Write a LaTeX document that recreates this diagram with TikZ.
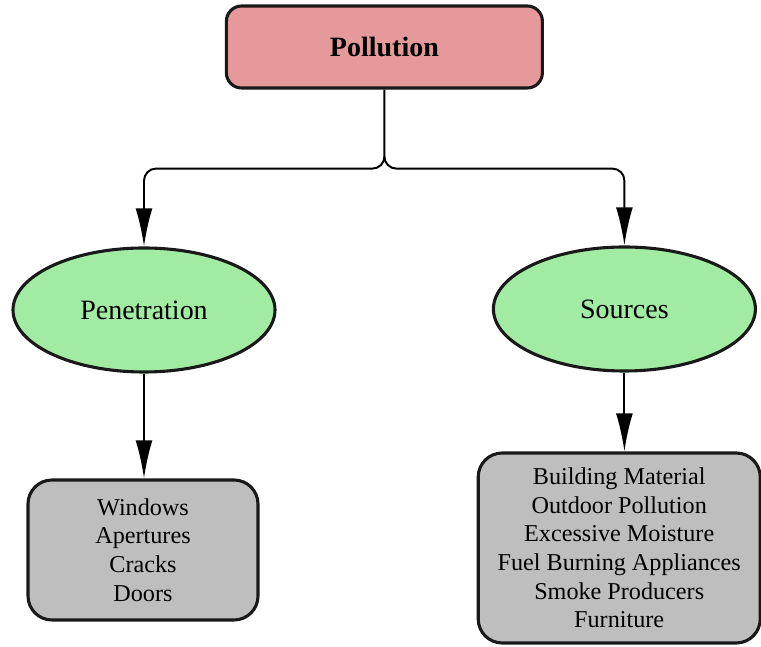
\documentclass[tikz,border=0pt]{standalone}
\usepackage{fontspec}
\setmainfont{LiberationSerif}[Extension=.ttf, UprightFont=*-Regular, BoldFont=*-Bold]
\usepackage{tikz}
\usetikzlibrary{shapes.geometric, calc, arrows.meta}

\definecolor{toppink}{HTML}{E6999A}
\definecolor{leafgreen}{HTML}{A2EBA2}
\definecolor{listgray}{HTML}{BEBEBE}

\begin{document}
\begin{tikzpicture}[
        topbox/.style={draw=black!90, line width=2.2pt, fill=toppink, rounded corners=0.38cm,
            minimum width=7.9cm, minimum height=2.05cm, inner sep=0pt,
            font=\fontsize{19.9}{24}\selectfont\bfseries},
        branch/.style={ellipse, draw=black!90, line width=2.2pt, fill=leafgreen,
            minimum width=6.55cm, minimum height=3.1cm, inner sep=0pt,
            font=\fontsize{19.9}{24}\selectfont},
        listbox/.style={draw=black!90, line width=2.2pt, fill=listgray, rounded corners=0.6cm,
            inner sep=0pt, align=center, font=\fontsize{17.2}{20.4}\selectfont},
        link/.style={line width=1.4pt, -{Latex[length=0.95cm, width=0.42cm]}}
    ]
        \useasboundingbox (0,0) rectangle (19.025,16.175);

        % Top node
        \node[topbox] (pollution) at (9.61,15.0) {Pollution};

        % Middle level
        \node[branch] (penetration) at (3.6,8.425) {Penetration};
        \node[branch] (sources) at (15.61,8.45) {Sources};

        % Lists
        \node[listbox, minimum width=5.75cm, minimum height=3.5cm] (penlist) at (3.575,2.425)
            {Windows\\Apertures\\Cracks\\Doors};
        \node[listbox, minimum width=7.05cm, minimum height=4.75cm] (srclist) at (15.48,2.475)
            {Building Material\\Outdoor Pollution\\Excessive Moisture\\Fuel Burning Appliances\\Smoke Producers\\Furniture};

        % Fork under the top node
        \coordinate (fork) at (pollution.south |- 0,11.96);
        \draw[link] (pollution.south) -- ($(fork)+(0,0.3)$) to[out=-90,in=0] ($(fork)+(-0.3,0)$)
            [rounded corners=0.3cm] -| (penetration.north);
        \draw[link] ($(fork)+(0,0.3)$) to[out=-90,in=180] ($(fork)+(0.3,0)$)
            [rounded corners=0.3cm] -| (sources.north);

        % Down to the lists
        \draw[link] (penetration.south) -- (penetration.south |- penlist.north);
        \draw[link] (sources.south) -- (sources.south |- srclist.north);
    \end{tikzpicture}
\end{document}
